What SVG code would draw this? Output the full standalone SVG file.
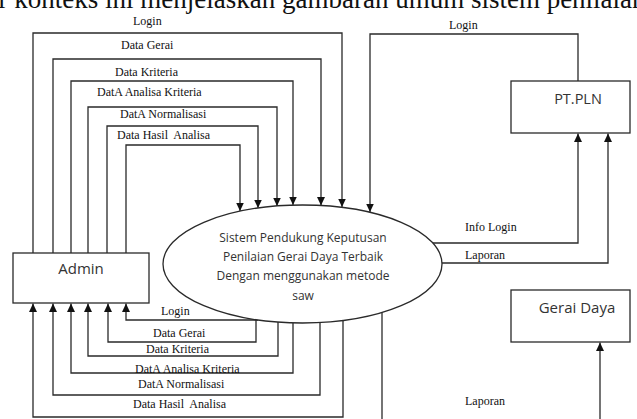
<svg xmlns="http://www.w3.org/2000/svg" width="637" height="419" viewBox="0 0 637 419">
<defs>
<marker id="arr" markerUnits="userSpaceOnUse" markerWidth="9" markerHeight="8" refX="8.5" refY="4" orient="auto">
<path d="M0,0 L8.5,4 L0,8 z" fill="#111"/>
</marker>
<style>
.ln{fill:none;stroke:#2a2a2a;stroke-width:1.3}
.box{fill:#fff;stroke:#2a2a2a;stroke-width:1.3}
.lbl{font-family:"Liberation Serif","Times New Roman",serif;font-size:12px;fill:#111}
.nd{font-family:"Open Sans","Liberation Sans",sans-serif;fill:#333;text-anchor:middle}
</style>
</defs>
<rect width="637" height="419" fill="#fff"/>
<text x="-1.5" y="8" font-family="Liberation Serif, Times New Roman, serif" font-size="27" fill="#111">r konteks ini menjelaskan gambaran umum sistem penilaian</text>

<g id="connectors">
<path class="ln" marker-end="url(#arr)" d="M33,253 V33 H342 V207"/>
<path class="ln" marker-end="url(#arr)" d="M53,253 V59 H321 V205.5"/>
<path class="ln" marker-end="url(#arr)" d="M71,253 V81 H293 V205"/>
<path class="ln" marker-end="url(#arr)" d="M88,253 V107 H277 V206"/>
<path class="ln" marker-end="url(#arr)" d="M107,253 V126 H258 V208"/>
<path class="ln" marker-end="url(#arr)" d="M126,253 V145 H240 V211"/>

<path class="ln" marker-end="url(#arr)" d="M258,320 H126 V303.5"/>
<path class="ln" marker-end="url(#arr)" d="M256,319.6 V342 H108 V303.5"/>
<path class="ln" marker-end="url(#arr)" d="M278,322 V356 H88 V303.5"/>
<path class="ln" marker-end="url(#arr)" d="M293,323 V373 H71 V303.5"/>
<path class="ln" marker-end="url(#arr)" d="M320,322.5 V395 H53 V303.5"/>
<path class="ln" marker-end="url(#arr)" d="M343,320.5 V417 H33 V303.5"/>

<path class="ln" marker-end="url(#arr)" d="M578,81 V34 H370 V212"/>
<path class="ln" marker-end="url(#arr)" d="M433,243 H578 V133.5"/>
<path class="ln" marker-end="url(#arr)" d="M442,263 H608 V133.5"/>
<path class="ln" d="M382,312.5 V419"/>
<path class="ln" marker-end="url(#arr)" d="M600,419 V342.5"/>

<text class="lbl" x="133" y="25">Login</text>
<text class="lbl" x="121" y="49">Data Gerai</text>
<text class="lbl" x="115" y="76">Data Kriteria</text>
<text class="lbl" x="97" y="96">DatA Analisa Kriteria</text>
<text class="lbl" x="120" y="118">DatA Normalisasi</text>
<text class="lbl" x="117" y="139" xml:space="preserve">Data Hasil  Analisa</text>

<text class="lbl" x="161" y="315">Login</text>
<text class="lbl" x="153" y="337">Data Gerai</text>
<text class="lbl" x="146" y="353">Data Kriteria</text>
<text class="lbl" x="135" y="373">DatA Analisa Kriteria</text>
<text class="lbl" x="138" y="388">DatA Normalisasi</text>
<text class="lbl" x="133" y="408" xml:space="preserve">Data Hasil  Analisa</text>

<text class="lbl" x="449" y="29">Login</text>
<text class="lbl" x="465" y="231">Info Login</text>
<text class="lbl" x="465" y="259">Laporan</text>
<text class="lbl" x="465" y="405">Laporan</text>
</g>

<g id="admin">
<rect class="box" x="13" y="253" width="136" height="50"/>
<text class="nd" x="81" y="274" font-size="15">Admin</text>
</g>

<g id="sistem">
<ellipse class="box" cx="302.5" cy="264" rx="139.5" ry="59"/>
<text class="nd" x="303" y="242" font-size="12">Sistem Pendukung Keputusan</text>
<text class="nd" x="303" y="261" font-size="12">Penilaian Gerai Daya Terbaik</text>
<text class="nd" x="303" y="280" font-size="12">Dengan menggunakan metode</text>
<text class="nd" x="303" y="300" font-size="12">saw</text>
</g>

<g id="ptpln">
<rect class="box" x="511" y="81" width="119" height="52"/>
<text class="nd" x="578" y="104" font-size="14.5">PT.PLN</text>
</g>

<g id="geraidaya">
<rect class="box" x="511" y="290" width="119" height="52"/>
<text class="nd" x="577" y="313" font-size="15">Gerai Daya</text>
</g>
</svg>
